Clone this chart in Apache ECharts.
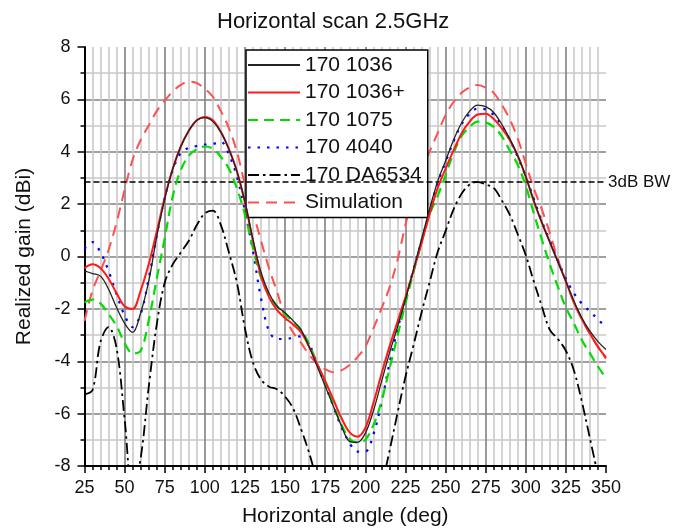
<!DOCTYPE html>
<html>
<head>
<meta charset="utf-8">
<script src="https://cdn.jsdelivr.net/npm/echarts@6/dist/echarts.min.js"></script>
<style>
  html, body { margin: 0; padding: 0; background: #fff; }
  #chart { width: 686px; height: 532px; }
</style>
</head>
<body>
<div id="chart"></div>
<script>
// Scan angles (deg), shared by every measured trace
const angles = [25,30,35,40,45,50,55,60,65,70,75,80,85,90,95,100,105,110,115,120,125,130,135,140,145,150,155,160,165,170,175,180,185,190,195,200,205,210,215,220,225,230,235,240,245,250,255,260,265,270,275,280,285,290,295,300,305,310,315,320,325,330,335,340,345,350];

// Realized gain (dBi) per antenna
const gain1036 = [-0.55,-0.65,-0.75,-1.25,-1.95,-2.55,-2.9,-2.15,-0.95,0.75,2.2,3.35,4.2,4.8,5.2,5.3,5.15,4.75,4.1,3.25,2.1,0.65,-0.6,-1.4,-1.9,-2.15,-2.45,-2.8,-3.45,-4.2,-4.95,-5.7,-6.45,-7.05,-7.1,-6.75,-5.9,-4.8,-3.7,-2.7,-1.65,-0.5,0.65,1.8,2.85,3.65,4.45,5.1,5.55,5.78,5.72,5.5,5.05,4.5,3.85,3.05,2.15,1.3,0.55,-0.2,-0.95,-1.7,-2.35,-2.85,-3.25,-3.55];
const gain1036p = [-0.45,-0.3,-0.45,-0.85,-1.4,-1.9,-2.0,-1.3,-0.3,0.95,2.25,3.35,4.2,4.8,5.2,5.33,5.2,4.75,4.1,3.25,2.05,0.6,-0.75,-1.55,-2.05,-2.35,-2.6,-2.9,-3.45,-4.1,-4.75,-5.45,-6.15,-6.7,-6.88,-6.55,-5.6,-4.5,-3.45,-2.5,-1.55,-0.55,0.5,1.6,2.6,3.35,4.05,4.7,5.15,5.42,5.45,5.25,4.9,4.45,3.85,3.05,2.1,1.3,0.55,-0.2,-0.95,-1.75,-2.4,-2.95,-3.45,-3.86];
const gain1075 = [-1.75,-1.65,-1.8,-2.2,-2.65,-3.3,-3.7,-3.6,-2.45,-0.85,0.7,2.3,3.3,3.85,4.1,4.2,4.12,3.8,3.35,2.6,1.6,0.3,-0.8,-1.45,-1.9,-2.2,-2.5,-2.8,-3.35,-4.1,-4.85,-5.65,-6.4,-6.95,-7.1,-7.0,-6.45,-5.55,-4.3,-3.05,-1.8,-0.6,0.55,1.6,2.3,3.1,3.95,4.6,4.95,5.15,5.12,4.95,4.6,4.05,3.5,2.7,1.65,0.65,-0.3,-1.15,-1.95,-2.55,-3.2,-3.7,-4.2,-4.65];
const gain4040 = [0.3,0.55,0.15,-0.55,-1.45,-2.25,-2.7,-2.2,-0.85,0.8,2.25,3.3,3.95,4.15,4.22,4.27,4.3,4.38,3.9,3.05,1.75,0.2,-1.6,-2.85,-3.15,-3.15,-3.1,-3.05,-3.35,-4.1,-4.9,-5.7,-6.5,-7.1,-7.45,-7.45,-6.8,-5.6,-4.1,-2.8,-1.65,-0.5,0.6,1.7,2.8,3.6,4.4,5.05,5.45,5.65,5.62,5.4,5.0,4.45,3.8,3.05,2.2,1.35,0.6,-0.15,-0.85,-1.4,-1.8,-2.1,-2.4,-2.72];
const gainDA6534 = [-5.26,-5.1,-3.25,-2.7,-3.5,-6.2,-9.0,-7.7,-5.0,-2.6,-1.0,-0.3,0.15,0.6,1.2,1.65,1.75,1.2,0.15,-1.0,-2.75,-4.05,-4.7,-4.97,-5.07,-5.35,-5.8,-6.6,-7.5,-8.6,null,null,null,null,null,null,null,-8.85,-7.45,-6.0,-4.6,-3.4,-2.15,-1.0,0.15,0.97,1.8,2.4,2.75,2.85,2.75,2.62,2.15,1.6,0.85,0.05,-0.95,-1.9,-2.8,-3.15,-3.6,-4.35,-5.55,-6.95,-8.35,null];
const gainSim = [-2.46,-1.3,-0.55,0.25,1.3,2.55,3.7,4.45,5.0,5.55,5.95,6.3,6.55,6.68,6.62,6.4,6.1,5.55,4.9,4.0,2.75,1.7,0.6,-0.45,-1.35,-2.3,-2.9,-3.3,-3.75,-4.1,-4.3,-4.42,-4.35,-4.15,-3.85,-3.45,-2.75,-2.0,-1.2,-0.15,1.2,2.4,3.35,4.0,4.7,5.4,5.9,6.25,6.45,6.55,6.45,6.25,5.8,5.25,4.5,3.55,2.6,1.8,0.9,-0.1,-0.95,-1.75,-2.4,-2.95,-3.45,-3.9];

// Half-power reference level (dBi)
const bw3dB = 2.85;

const seriesNames = ['170 1036', '170 1036+', '170 1075', '170 4040', '170 DA6534', 'Simulation'];

const FONT = "'Liberation Sans', Arial, sans-serif";

function pairs(values) {
  return angles.map((a, i) => [a, values[i]]);
}

function trace(name, values, color, width, dash, z) {
  return {
    name: name,
    type: 'line',
    data: pairs(values),
    smooth: 0.35,
    symbol: 'none',
    showSymbol: false,
    clip: true,
    z: z,
    lineStyle: { color: color, width: width, type: dash },
    itemStyle: { color: color }
  };
}

const series = [
  trace(seriesNames[5], gainSim, '#ff5050', 2, [11, 7], 2),
  trace(seriesNames[4], gainDA6534, '#000000', 1.8, [11, 4, 2.5, 4], 3),
  trace(seriesNames[3], gain4040, '#0000ff', 2.2, [2.5, 7], 4),
  trace(seriesNames[2], gain1075, '#00dd00', 2.2, [10, 6], 5),
  trace(seriesNames[1], gain1036p, '#ff1a1a', 2, 'solid', 6),
  trace(seriesNames[0], gain1036, '#222222', 1.3, 'solid', 7)
];

// 3 dB beamwidth reference line
series[5].markLine = {
  silent: true,
  symbol: 'none',
  lineStyle: { color: '#000', width: 1.5, type: [6, 3] },
  label: {
    show: true,
    position: 'end',
    formatter: '3dB BW',
    fontSize: 17,
    fontFamily: FONT,
    color: '#111',
    distance: 2
  },
  data: [{ yAxis: bw3dB }]
};

const chart = echarts.init(document.getElementById('chart'), null, { renderer: 'canvas' });

chart.setOption({
  animation: false,
  backgroundColor: '#fff',
  title: {
    text: 'Horizontal scan 2.5GHz',
    left: 212,
    top: 6,
    textStyle: { fontSize: 22, fontWeight: 'normal', color: '#111', fontFamily: FONT }
  },
  legend: {
    orient: 'vertical',
    left: 246,
    top: 50,
    data: seriesNames,
    itemWidth: 52,
    itemHeight: 14,
    itemGap: 5.5,
    padding: [4, 6, 4, 1],
    backgroundColor: '#fff',
    borderColor: '#000',
    borderWidth: 1.5,
    borderRadius: 0,
    itemStyle: { opacity: 0 },
    textStyle: { fontSize: 21, color: '#111', fontFamily: FONT, lineHeight: 22 }
  },
  grid: { left: 84.5, right: 80, top: 47, bottom: 65, containLabel: false },
  xAxis: {
    type: 'value',
    min: 25,
    max: 350,
    interval: 25,
    name: 'Horizontal angle (deg)',
    nameLocation: 'middle',
    nameGap: 40,
    nameTextStyle: { fontSize: 21, color: '#111', fontFamily: FONT },
    axisLine: { show: true, onZero: false, lineStyle: { color: '#000', width: 2 } },
    axisTick: { show: true, length: 7, lineStyle: { color: '#000', width: 1.5 } },
    minorTick: { show: true, splitNumber: 5, length: 4, lineStyle: { color: '#000', width: 1.5 } },
    splitLine: { show: true, showMaxLine: false, lineStyle: { color: '#808080', width: 1.6 } },
    minorSplitLine: { show: true, lineStyle: { color: '#c8c8c8', width: 1.6 } },
    axisLabel: { fontSize: 18, margin: 13, color: '#111', fontFamily: FONT }
  },
  yAxis: {
    type: 'value',
    min: -8,
    max: 8,
    interval: 2,
    name: 'Realized gain (dBi)',
    nameLocation: 'middle',
    nameGap: 50,
    nameRotate: 90,
    nameTextStyle: { fontSize: 21, color: '#111', fontFamily: FONT },
    axisLine: { show: true, onZero: false, lineStyle: { color: '#000', width: 2 } },
    axisTick: { show: true, length: 7, lineStyle: { color: '#000', width: 1.5 } },
    minorTick: { show: true, splitNumber: 2, length: 4, lineStyle: { color: '#000', width: 1.5 } },
    splitLine: { show: true, showMaxLine: false, lineStyle: { color: '#808080', width: 1.6 } },
    minorSplitLine: { show: true, lineStyle: { color: '#c8c8c8', width: 1.6 } },
    axisLabel: { fontSize: 18, margin: 14, color: '#111', fontFamily: FONT }
  },
  series: series
});
</script>
</body>
</html>
